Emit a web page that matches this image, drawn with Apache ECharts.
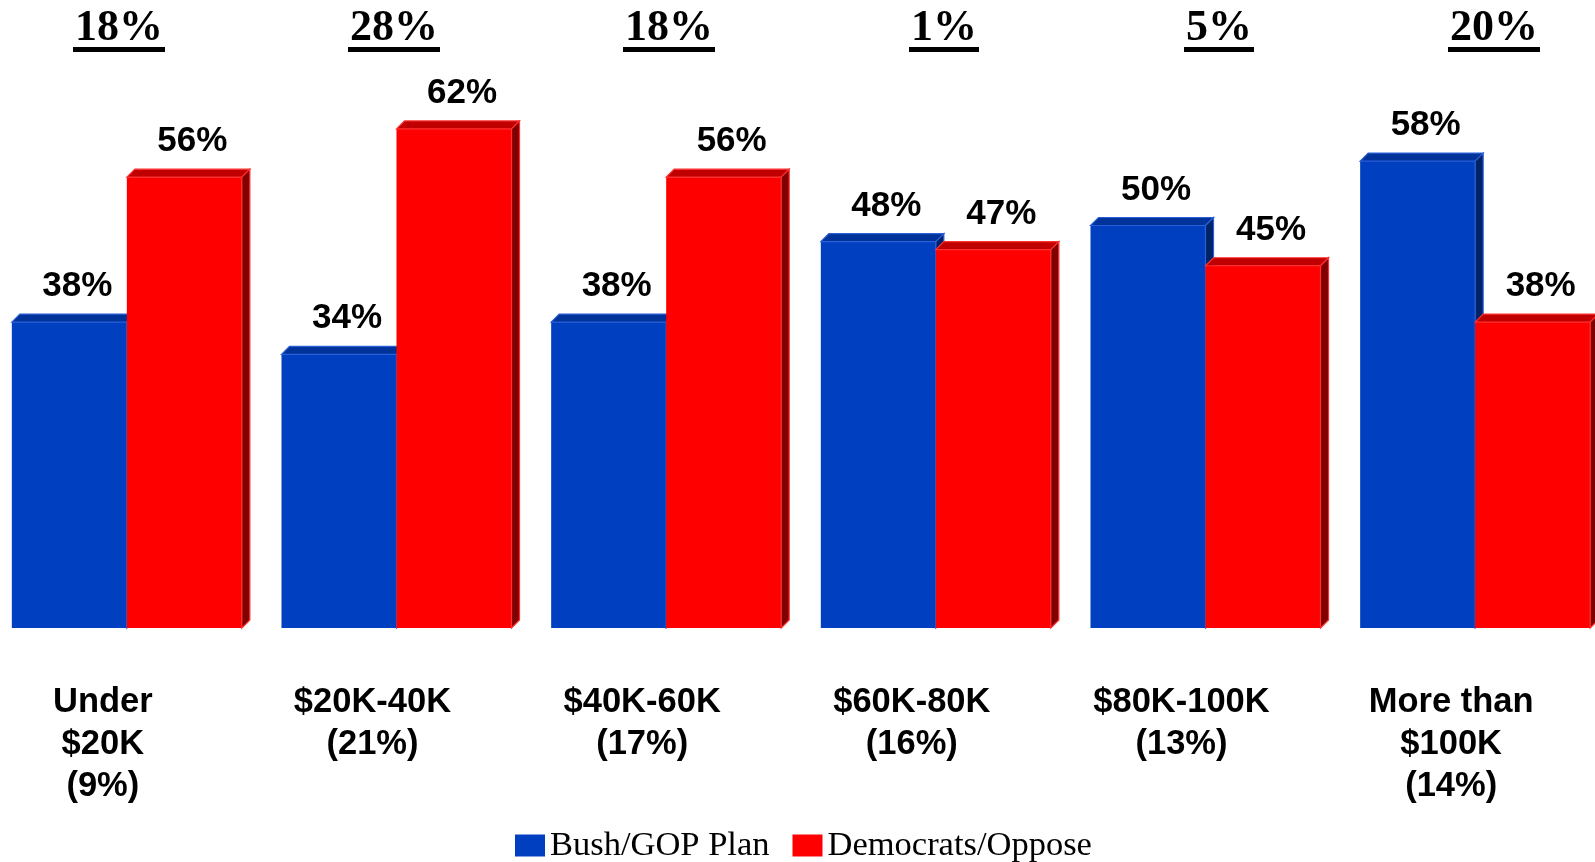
<!DOCTYPE html>
<html>
<head>
<meta charset="utf-8"/>
<title>Bush/GOP Plan vs Democrats by income</title>
<script src="https://cdn.jsdelivr.net/npm/echarts@6/dist/echarts.min.js"></script>
<style>
    html, body { margin: 0; padding: 0; background: #fff; }
    #main { width: 1595px; height: 862px; }
</style>
</head>
<body>
<div id="main"></div>
<script>
var categories = ['Under\n$20K\n(9%)', '$20K-40K\n(21%)', '$40K-60K\n(17%)', '$60K-80K\n(16%)', '$80K-100K\n(13%)', 'More than\n$100K\n(14%)']
var gopPlan = [38, 34, 38, 48, 50, 58]
var oppose = [56, 62, 56, 47, 45, 38]
var gapLabels = ['18%', '28%', '18%', '1%', '5%', '20%']

var DEPTH = 8
var SANS = '"Liberation Sans", Arial, sans-serif'
var SERIF = '"Liberation Serif", "Times New Roman", serif'

// measure text width for the underline under the gap labels
var ctx = document.createElement('canvas').getContext('2d')
function textWidth(txt, font) {
    ctx.font = font
    return ctx.measureText(txt).width
}

function bar3d(side, colors) {
    return function (params, api) {
        var c = api.coord([api.value(0), api.value(1)])
        var base = api.coord([api.value(0), 0])
        var w = api.size([1, 0])[0] * 0.4265
        var d = DEPTH
        var x0 = side < 0 ? c[0] - w : c[0]
        var x1 = x0 + w
        var yT = c[1], yB = base[1]
        return {
            type: 'group',
            children: [
                {type: 'rect', shape: {x: x0, y: yT, width: w, height: yB - yT}, style: {fill: colors.face}},
                {type: 'polygon', shape: {points: [[x0, yT], [x0 + d, yT - d], [x1 + d, yT - d], [x1, yT]]},
                    style: {fill: colors.top, stroke: colors.edge, lineWidth: 1.2}},
                {type: 'polygon', shape: {points: [[x1, yT], [x1 + d, yT - d], [x1 + d, yB - d], [x1, yB]]},
                    style: {fill: colors.side, stroke: colors.edge, lineWidth: 1.2}},
                {type: 'text', style: {text: api.value(1) + '%', x: (x0 + x1) / 2 + d, y: yT - d - 10,
                    align: 'center', verticalAlign: 'bottom', fill: '#000',
                    fontSize: 35, fontWeight: 'bold', fontFamily: SANS}}
            ]
        }
    }
}

function gapItem(params, api) {
    var i = api.value(0)
    var x = api.coord([i, 0])[0]
    var txt = gapLabels[i]
    var font = 'bold 44px ' + SERIF
    var w = textWidth(txt, font)
    return {
        type: 'group',
        children: [
            {type: 'text', style: {text: txt, x: x, y: 29, align: 'center', verticalAlign: 'middle',
                fill: '#000', fontSize: 44, fontWeight: 'bold', fontFamily: SERIF}},
            {type: 'rect', shape: {x: x - w / 2 - 2, y: 47, width: w + 4, height: 5}, style: {fill: '#000'}}
        ]
    }
}

var chart = echarts.init(document.getElementById('main'))
chart.setOption({
    animation: false,
    backgroundColor: '#fff',
    grid: [
        {left: -8, right: -15, top: 64.5, bottom: 234, outerBoundsMode: 'none'},
        {left: -18.5, width: 1650, top: 0, height: 100, outerBoundsMode: 'none'}
    ],
    legend: {
        data: ['Bush/GOP Plan', 'Democrats/Oppose'],
        left: 515,
        top: 828,
        padding: 0,
        icon: 'rect',
        itemWidth: 30,
        itemHeight: 22,
        itemGap: 23,
        selectedMode: false,
        textStyle: {fontFamily: SERIF, fontSize: 34.5, color: '#000'}
    },
    xAxis: [
        {
            type: 'category', gridIndex: 0, data: categories,
            axisLine: {show: false}, axisTick: {show: false},
            axisLabel: {
                margin: 53, lineHeight: 42, fontSize: 34.5, fontWeight: 'bold', fontFamily: SANS,
                color: '#000', interval: 0, padding: [0, 48, 0, 0]
            }
        },
        {type: 'category', gridIndex: 1, data: gapLabels, show: false}
    ],
    yAxis: [
        {type: 'value', gridIndex: 0, min: 0, max: 70, show: false, splitLine: {show: false}},
        {type: 'value', gridIndex: 1, min: 0, max: 1, show: false, splitLine: {show: false}}
    ],
    series: [
        {
            name: 'Bush/GOP Plan', type: 'custom', xAxisIndex: 0, yAxisIndex: 0,
            itemStyle: {color: '#0040C0'},
            renderItem: bar3d(-1, {face: '#0040C0', top: '#003399', side: '#002266', edge: '#2a5fd8'}),
            data: gopPlan.map(function (v, i) { return [i, v] })
        },
        {
            name: 'Democrats/Oppose', type: 'custom', xAxisIndex: 0, yAxisIndex: 0,
            itemStyle: {color: '#FF0000'},
            renderItem: bar3d(1, {face: '#FF0000', top: '#C00000', side: '#800000', edge: '#ff3030'}),
            data: oppose.map(function (v, i) { return [i, v] })
        },
        {
            name: 'gap', type: 'custom', xAxisIndex: 1, yAxisIndex: 1,
            renderItem: gapItem,
            data: gapLabels.map(function (v, i) { return [i, 0] })
        }
    ]
})
</script>
</body>
</html>
